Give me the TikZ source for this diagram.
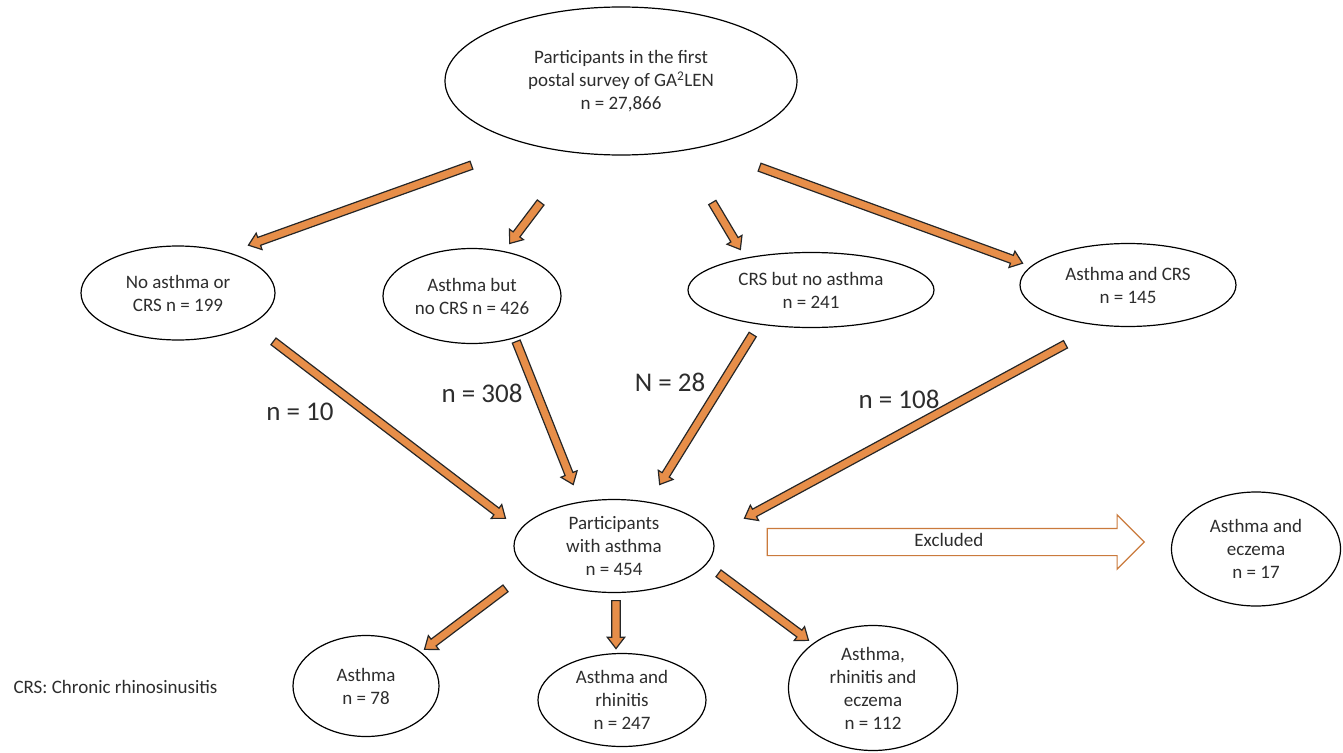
\documentclass[tikz,border=0pt]{standalone}
\usepackage{fontspec}
\setmainfont{Carlito}
\usetikzlibrary{shapes,shapes.geometric,shapes.arrows,calc,positioning}
\definecolor{arrfill}{RGB}{231,142,73}
\definecolor{arrline}{RGB}{38,38,38}
\definecolor{exclline}{RGB}{202,122,60}
\definecolor{txt}{RGB}{45,45,45}
% block arrow from (node + offset) to (node + offset)
\newcommand{\flowarrow}[4]{%
  \path ($(#1)+(#2)$) coordinate (fa-s) ($(#3)+(#4)$) coordinate (fa-e);
  \path let \p1=($(fa-e)-(fa-s)$), \n1={atan2(\y1,\x1)}, \n2={veclen(\x1,\y1)} in
    node[flow, minimum height=\n2, rotate=\n1, anchor=tail] at (fa-s) {};}

\begin{document}
\begin{tikzpicture}[
    x=1pt, y=-1pt,
    font=\fontsize{19}{23}\selectfont, text=txt,
    %
    stage/.style={draw=black, ellipse, line width=1.2pt, inner sep=0pt, align=center},
    flow/.style={single arrow, draw=arrline, fill=arrfill, line width=1.2pt, inner sep=3.6pt,
                 single arrow head extend=4.5pt, single arrow tip angle=75},
    excl/.style={single arrow, draw=exclline, fill=white, line width=1.2pt,
                 inner xsep=0pt, inner ysep=5pt, text height=12pt, text depth=4pt,
                 single arrow head extend=13.5pt, single arrow tip angle=90, minimum height=377},
    nlabel/.style={font=\fontsize{27}{32}\selectfont, anchor=base}
    ]
    \useasboundingbox (0,0) rectangle (1343,752);

    \node[stage, minimum width=352, minimum height=148] (top) at (621,81)
        {Participants in the first\\postal survey of GA\textsuperscript{2}LEN\\n = 27,866};
    %
    \node[stage, minimum width=194, minimum height=94] (noasth) at (178,293) {No asthma or\\CRS n = 199};
    \node[stage, minimum width=178, minimum height=95] (asthnocrs) at (472,296) {Asthma but\\no CRS n = 426};
    \node[stage, minimum width=246, minimum height=75] (crsnoasth) at (811,290) {CRS but no asthma\\n = 241};
    \node[stage, minimum width=216, minimum height=83] (asthcrs) at (1128,285) {Asthma and CRS\\n = 145};
    %
    \node[stage, minimum width=200, minimum height=93] (ast) at (614,546) {Participants\\with asthma\\n = 454};
    \node[stage, minimum width=169, minimum height=114] (asthecz) at (1256,549) {Asthma and\\eczema\\n = 17};
    %
    \node[stage, minimum width=146, minimum height=101] (asthonly) at (366,686) {Asthma\\n = 78};
    \node[stage, minimum width=168, minimum height=93] (asthrhin) at (622,700) {Asthma and\\rhinitis\\n = 247};
    \node[stage, minimum width=169, minimum height=125] (asthrhinecz) at (873,688) {Asthma,\\rhinitis and\\eczema\\n = 112};

    \flowarrow{top}{-149,84}{noasth}{71,-48}
    \flowarrow{top}{-80,121}{asthnocrs}{38,-53}
    \flowarrow{top}{91,121}{crsnoasth}{-71,-41}
    \flowarrow{top}{138,86}{asthcrs}{-106,-22}
    %
    \flowarrow{noasth}{95,48}{ast}{-109,-28}
    \flowarrow{asthnocrs}{44,45}{ast}{-41,-62}
    \flowarrow{crsnoasth}{-58,44}{ast}{46,-62}
    \flowarrow{asthcrs}{-62,59}{ast}{131,-28}
    %
    \flowarrow{ast}{-108,42}{asthonly}{59,-37}
    \flowarrow{ast}{2,54}{asthrhin}{-6,-52}
    \flowarrow{ast}{104,27}{asthrhinecz}{-65,-48}

    \node[excl, anchor=tail] (excl) at ($(ast.east)+(52,-4)$) {Excluded};

    \node[nlabel] (n10) at (300,420) {n = 10};
    \node[nlabel] (n308) at (482,402) {n = 308};
    \node[nlabel] (n28) at (670,391) {N = 28};
    \node[nlabel] (n108) at (899,408) {n = 108};

    \node[anchor=base west] (note) at (10,693) {CRS: Chronic rhinosinusitis};
\end{tikzpicture}
\end{document}
